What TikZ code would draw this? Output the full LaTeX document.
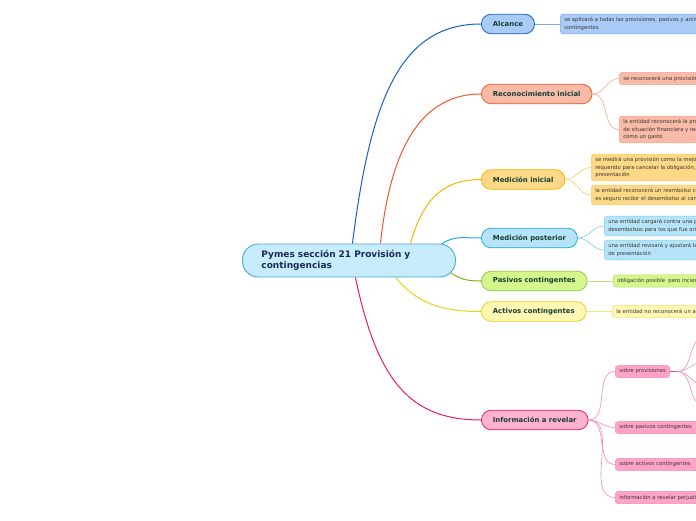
\documentclass[tikz,border=0pt]{standalone}
\usepackage{fontspec}
\setmainfont{DejaVu Sans}
\usetikzlibrary{calc}
\definecolor{rootfill}{HTML}{C7ECFB}
\definecolor{rootline}{HTML}{4AA8DC}
\definecolor{roottext}{HTML}{1A2C55}
\definecolor{topictext}{HTML}{153F36}
\definecolor{leaftext}{HTML}{3A3530}
\definecolor{alcfill}{HTML}{A9CBF6}
\definecolor{alcline}{HTML}{1762C9}
\definecolor{alcleaf}{HTML}{7EA9E6}
\definecolor{recfill}{HTML}{F9BBA7}
\definecolor{recline}{HTML}{EE5A2B}
\definecolor{recleaf}{HTML}{F6A58C}
\definecolor{minfill}{HTML}{FDD987}
\definecolor{minline}{HTML}{F9B400}
\definecolor{minleaf}{HTML}{FCCB63}
\definecolor{mpofill}{HTML}{B5E4F9}
\definecolor{mpoline}{HTML}{1FA9E1}
\definecolor{mpoleaf}{HTML}{7ECFF0}
\definecolor{pasfill}{HTML}{D4F78C}
\definecolor{pasline}{HTML}{7DB51F}
\definecolor{pasleaf}{HTML}{B8E66A}
\definecolor{actfill}{HTML}{FFF7B3}
\definecolor{actline}{HTML}{E9D21A}
\definecolor{actleaf}{HTML}{F5E47A}
\definecolor{inffill}{HTML}{FFB2D0}
\definecolor{infline}{HTML}{E81A6E}
\definecolor{infsub}{HTML}{FFA3C8}
\definecolor{infleaf}{HTML}{F38DB6}
\tikzset{
	central/.style={
		draw=rootline, fill=rootfill, line width=0.9pt,
		rounded corners=16pt, minimum width=213pt, minimum height=33pt,
		inner xsep=19pt, text width=175pt, align=left,
		font=\fontsize{9}{11}\selectfont\bfseries, text=roottext, anchor=west
	},
	topic/.style={
		rounded corners=9.75pt, minimum height=19.5pt, inner xsep=11.5pt,
		line width=0.8pt, font=\fontsize{6.9}{8}\selectfont\bfseries,
		text=topictext, anchor=west
	},
	leaf/.style={
		rounded corners=3pt, inner xsep=4pt, inner ysep=3.5pt,
		line width=0.5pt, align=left,
		font=\fontsize{5.3}{7.3}\selectfont, text=leaftext, anchor=west
	},
	branch/.style={line width=1pt},
	twig/.style={line width=0.6pt}
}
\begin{document}
\begin{tikzpicture}[x=1pt,y=-1pt]
	\useasboundingbox (0,0) rectangle (696,520);
	\fill[white] (0,0) rectangle (696,520);
	\clip (0,0) rectangle (696,520);
	%%%% centre
	\node[central] (pymes) at (242,260.5) {Pymes sección 21 Provisión y\\contingencias};
	%%%% topics
	\node[topic, draw=alcline, fill=alcfill] (alcance) at (481,24) {Alcance};
	\node[topic, draw=recline, fill=recfill] (recini) at (481,94) {Reconocimiento inicial};
	\node[topic, draw=minline, fill=minfill] (medini) at (481,179.5) {Medición inicial};
	\node[topic, draw=mpoline, fill=mpofill] (medpos) at (481,238) {Medición posterior};
	\node[topic, draw=pasline!80, fill=pasfill] (pasivos) at (481,281) {Pasivos contingentes};
	\node[topic, draw=actline, fill=actfill] (activos) at (481,311.5) {Activos contingentes};
	\node[topic, draw=infline, fill=inffill] (inforev) at (481,420) {Información a revelar};
	%%%% leaves
	\node[leaf, draw=alcleaf, fill=alcfill] (alc1) at (560,24) {se aplicará a todas las provisiones, pasivos y activos\\contingentes};
	\node[leaf, draw=recleaf, fill=recfill] (rec1) at (619,78.5) {se reconocerá una provisión cuando la entidad tenga una obligación};
	\node[leaf, draw=recleaf, fill=recfill] (rec2) at (619,129.5) {la entidad reconocerá la provisión como un pasivo en el estado\\de situación financiera y reconocerá el importe de la provisión\\como un gasto};
	\node[leaf, draw=minleaf, fill=minfill] (min1) at (591,167.5) {se medirá una provisión como la mejor estimación del importe\\requerido para cancelar la obligación, en la fecha sobre la que se informa o de\\presentación};
	\node[leaf, draw=minleaf, fill=minfill] (min2) at (591,195) {la entidad reconocerá un reembolso como un activo separado solo cuando\\es seguro recibir el desembolso al cancelar la obligación};
	\node[leaf, draw=mpoleaf, fill=mpofill] (mpo1) at (604,226) {una entidad cargará contra una provisión únicamente los\\desembolsos para los que fue originalmente reconocida};
	\node[leaf, draw=mpoleaf, fill=mpofill] (mpo2) at (604,250) {una entidad revisará y ajustará las provisiones en cada fecha\\de presentación};
	\node[leaf, draw=pasleaf, fill=pasfill] (pas1) at (613,281) {obligación posible~ pero incierta, o una obligación presente no reconocida};
	\node[leaf, draw=actleaf, fill=actfill] (act1) at (612,311.5) {la entidad no reconocerá un activo contingente como un activo};
	\node[leaf, draw=infleaf, fill=infsub] (inf1) at (615,371.5) {sobre provisiones};
	\node[leaf, draw=infleaf, fill=infsub] (inf2) at (615,427.5) {sobre pasivos contingentes~~};
	\node[leaf, draw=infleaf, fill=infsub] (inf3) at (615,464.5) {sobre activos contingentes~~};
	\node[leaf, draw=infleaf, fill=infsub] (inf4) at (615,497.5) {información a revelar perjudicial};
	%%%% branches from the centre
	\draw[branch, alcline] ([xshift=3.5pt]pymes.north) .. controls +(18,-144) and +(-81,0) .. (alcance.west);
	\draw[branch, recline] ([xshift=31.5pt]pymes.north) .. controls +(10,-95) and +(-60,0) .. (recini.west);
	\draw[branch, minline] ([xshift=61.5pt]pymes.north) .. controls +(12,-42) and +(-40,0) .. (medini.west);
	\draw[branch, mpoline] ([xshift=-14pt]pymes.north east) .. controls +(14,-8) and +(-20,0) .. (medpos.west);
	\draw[branch, pasline] ([xshift=-5pt,yshift=4.4pt]pymes.south east) .. controls +(10,6) and +(-15,0) .. (pasivos.west);
	\draw[branch, actline] ([xshift=46.5pt]pymes.south) .. controls +(22,26) and +(-40,0) .. (activos.west);
	\draw[branch, infline] ([xshift=6.5pt]pymes.south) .. controls +(22,105) and +(-70,0) .. (inforev.west);
	%%%% twigs to the leaves
	\draw[twig, alcleaf] (alcance.east) -- (alc1.west);
	\foreach \t in {rec1,rec2} \draw[twig, recleaf] (recini.east) to[out=0,in=180] (\t.west);
	\foreach \t in {min1,min2} \draw[twig, minleaf] (medini.east) to[out=0,in=180] (\t.west);
	\foreach \t in {mpo1,mpo2} \draw[twig, mpoleaf] (medpos.east) to[out=0,in=180] (\t.west);
	\draw[twig, pasleaf] (pasivos.east) -- (pas1.west);
	\draw[twig, actleaf] (activos.east) -- (act1.west);
	\foreach \t in {inf1,inf2,inf3,inf4} \draw[twig, infleaf] (inforev.east) to[out=0,in=180] (\t.west);
	% provisiones fan, its nodes lie past the edge
	\coordinate (provfan) at ($(inf1.east)+(7,0)$);
	\coordinate (prova) at (704,338);
	\coordinate (provb) at (704,362);
	\coordinate (provc) at (704,385);
	\coordinate (provd) at (704,405);
	\draw[line width=1.4pt, infline!80] (inf1.east) -- (provfan);
	\foreach \t in {prova,provb,provc,provd} \draw[twig, infleaf] (provfan) to[out=0,in=180] (\t);
\end{tikzpicture}
\end{document}
